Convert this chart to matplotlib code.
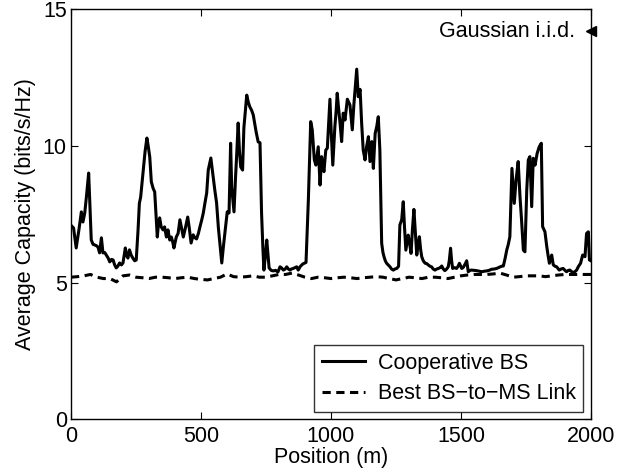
import matplotlib
matplotlib.use("Agg")
import matplotlib.pyplot as plt

plt.rcParams['font.family'] = ['Liberation Sans', 'DejaVu Sans']

# Cooperative BS capacity along the route (position in m, capacity in bits/s/Hz)
coop_pos = [
    0, 10, 20, 30, 40, 46, 53, 60, 68, 73, 78, 85, 91, 98, 104, 110, 117, 123, 130, 136,
    143, 149, 156, 162, 168, 174, 180, 187, 194, 200, 209, 214, 219, 225, 232, 238, 245, 251, 258, 263,
    268, 277, 285, 292, 297, 303, 309, 316, 322, 327, 332, 336, 341, 347, 354, 360, 367, 373, 380, 386,
    391, 396, 405, 412, 419, 425, 432, 440, 449, 455, 462, 470, 476, 483, 490, 496, 503, 509, 515, 522,
    528, 538, 547, 553, 560, 567, 574, 580, 586, 592, 601, 608, 614, 618, 627, 633, 638, 643, 648, 653,
    660, 665, 670, 676, 682, 688, 695, 701, 707, 712, 720, 727, 733, 738, 742, 748, 753, 758, 762, 770,
    778, 787, 796, 804, 810, 817, 824, 830, 836, 842, 848, 855, 862, 868, 874, 881, 891, 904, 913, 922,
    928, 936, 942, 951, 958, 964, 968, 973, 980, 986, 991, 996, 1001, 1007, 1011, 1015, 1020, 1024, 1029, 1035,
    1041, 1047, 1054, 1058, 1063, 1068, 1073, 1078, 1082, 1088, 1094, 1099, 1105, 1112, 1118, 1124, 1131, 1137, 1144, 1150,
    1157, 1163, 1170, 1176, 1182, 1188, 1192, 1195, 1200, 1204, 1209, 1214, 1220, 1227, 1233, 1240, 1246, 1253, 1260, 1265,
    1272, 1278, 1283, 1288, 1297, 1303, 1308, 1313, 1319, 1325, 1330, 1335, 1340, 1345, 1349, 1355, 1362, 1368, 1374, 1381,
    1387, 1393, 1400, 1407, 1413, 1420, 1426, 1432, 1438, 1445, 1451, 1455, 1460, 1464, 1468, 1475, 1483, 1489, 1494, 1499,
    1503, 1508, 1512, 1517, 1522, 1528, 1535, 1541, 1550, 1560, 1570, 1580, 1590, 1599, 1608, 1618, 1628, 1637, 1644, 1650,
    1656, 1663, 1670, 1676, 1682, 1688, 1692, 1696, 1705, 1712, 1720, 1727, 1733, 1740, 1746, 1753, 1759, 1765, 1772, 1778,
    1785, 1793, 1801, 1809, 1814, 1823, 1830, 1835, 1840, 1849, 1855, 1862, 1868, 1878, 1885, 1893, 1900, 1906, 1913, 1919,
    1926, 1932, 1938, 1945, 1951, 1960, 1968, 1977, 1983, 1990, 1994, 2000,
]
coop_cap = [
    7.1, 7.0, 6.27, 6.9, 7.59, 7.22, 7.55, 8.2, 9.01, 7.8, 6.56, 6.4, 6.38, 6.35, 6.3, 6.09, 6.64, 6.09, 6.1, 6.01,
    5.9, 5.76, 5.85, 5.83, 5.65, 5.54, 5.6, 5.72, 5.65, 5.72, 6.27, 6.0, 5.9, 6.2, 6.0, 5.9, 5.8, 5.83, 6.93, 7.9,
    8.13, 9.01, 9.8, 10.29, 10.0, 9.6, 8.69, 8.45, 8.32, 7.5, 6.67, 7.1, 7.37, 7.04, 6.93, 7.04, 6.67, 6.93, 6.56, 6.67,
    6.5, 6.27, 6.67, 6.8, 7.3, 7.0, 6.67, 7.0, 7.4, 7.0, 6.45, 6.75, 6.65, 6.6, 6.8, 7.04, 7.3, 7.55, 7.9, 8.28,
    9.12, 9.56, 8.87, 8.4, 7.92, 7.0, 6.3, 5.72, 6.3, 6.82, 7.59, 7.55, 10.1, 8.5, 7.59, 8.87, 9.8, 10.84, 9.8, 9.23,
    9.12, 10.66, 11.2, 11.86, 11.6, 11.43, 11.3, 11.14, 10.8, 10.52, 10.15, 10.12, 7.55, 6.3, 5.46, 6.0, 6.56, 6.0, 5.54, 5.45,
    5.43, 5.45, 5.39, 5.58, 5.54, 5.46, 5.5, 5.58, 5.5, 5.46, 5.5, 5.52, 5.55, 5.58, 5.46, 5.58, 5.68, 5.74, 8.02, 10.89,
    10.59, 9.49, 9.3, 9.97, 8.57, 9.61, 9.3, 9.06, 9.85, 9.92, 10.8, 11.71, 10.5, 9.3, 10.0, 10.71, 11.3, 11.93, 11.4, 10.83,
    10.16, 11.2, 10.95, 11.3, 11.71, 11.6, 11.5, 11.0, 10.59, 11.5, 12.2, 12.81, 11.8, 12.07, 10.83, 9.85, 9.49, 9.97, 10.34, 9.43,
    10.16, 9.18, 10.46, 10.71, 11.07, 9.85, 8.0, 6.44, 6.1, 5.95, 5.8, 5.71, 5.65, 5.58, 5.5, 5.46, 5.5, 5.52, 5.6, 7.11,
    7.3, 7.96, 7.0, 6.19, 6.74, 6.4, 6.07, 6.9, 7.68, 6.8, 6.01, 6.4, 6.68, 6.2, 5.95, 5.8, 5.71, 5.7, 5.65, 5.6,
    5.58, 5.5, 5.46, 5.5, 5.52, 5.55, 5.61, 5.5, 5.44, 5.5, 5.58, 5.8, 6.26, 5.8, 5.52, 5.55, 5.52, 5.6, 5.71, 5.6,
    5.52, 5.55, 5.61, 5.7, 5.8, 5.4, 5.45, 5.46, 5.45, 5.44, 5.42, 5.4, 5.42, 5.43, 5.45, 5.49, 5.5, 5.52, 5.55, 5.58,
    5.6, 5.61, 5.9, 6.19, 6.4, 6.68, 7.9, 9.18, 7.9, 8.76, 9.43, 8.15, 7.29, 6.19, 6.13, 8.39, 9.49, 9.61, 7.78, 9.55,
    9.3, 9.73, 9.97, 10.1, 7.05, 6.86, 6.32, 6.0, 5.71, 6.01, 5.65, 5.6, 5.58, 5.46, 5.5, 5.52, 5.45, 5.4, 5.45, 5.46,
    5.4, 5.37, 5.4, 5.46, 5.58, 5.71, 6.01, 5.95, 6.8, 6.86, 5.83, 5.8,
]

# Best single BS-to-MS link
best_pos = [
    0, 25, 50, 75, 100, 125, 150, 175, 200, 225, 250, 275, 300, 325, 350, 375, 400, 425, 450, 475,
    500, 525, 550, 575, 600, 625, 650, 675, 700, 725, 750, 775, 800, 825, 850, 875, 900, 925, 950, 975,
    1000, 1025, 1050, 1075, 1100, 1125, 1150, 1175, 1200, 1225, 1250, 1275, 1300, 1325, 1350, 1375, 1400, 1425, 1450, 1475,
    1500, 1525, 1550, 1575, 1600, 1625, 1650, 1675, 1700, 1725, 1750, 1775, 1800, 1825, 1850, 1875, 1900, 1925, 1950, 1975,
    2000,
]
best_cap = [
    5.2, 5.22, 5.25, 5.3, 5.2, 5.15, 5.15, 5.03, 5.25, 5.28, 5.2, 5.18, 5.15, 5.2, 5.2, 5.18, 5.15, 5.18, 5.2, 5.15,
    5.12, 5.1, 5.15, 5.2, 5.32, 5.22, 5.2, 5.22, 5.25, 5.2, 5.2, 5.25, 5.3, 5.3, 5.35, 5.28, 5.2, 5.15, 5.2, 5.18,
    5.15, 5.18, 5.2, 5.18, 5.15, 5.18, 5.2, 5.22, 5.2, 5.15, 5.1, 5.15, 5.2, 5.18, 5.15, 5.2, 5.2, 5.18, 5.15, 5.2,
    5.25, 5.28, 5.3, 5.3, 5.3, 5.32, 5.35, 5.28, 5.2, 5.22, 5.25, 5.25, 5.25, 5.22, 5.25, 5.28, 5.3, 5.3, 5.3, 5.3,
    5.3,
]

gauss_iid = 14.2

fs = 15.5

fig = plt.figure(figsize=(6.36, 4.76), dpi=100)
ax = fig.add_axes([0.1116, 0.119, 0.8176, 0.8615])

ax.plot(coop_pos, coop_cap, color='black', linewidth=2.2, label='Cooperative BS')
ax.plot(best_pos, best_cap, color='black', linewidth=2.2, linestyle='--', dashes=(2.7, 1.8),
        label='Best BS\u2212to\u2212MS Link')

# Gaussian i.i.d. reference marker on the right edge
ax.plot([2000], [gauss_iid], marker='<', color='black', markersize=7, clip_on=False)
ax.text(1938, gauss_iid, 'Gaussian i.i.d.', ha='right', va='center', fontsize=fs)

ax.set_xlim(0, 2000)
ax.set_ylim(0, 15)
ax.set_xticks([0, 500, 1000, 1500, 2000])
ax.set_yticks([0, 5, 10, 15])
ax.tick_params(direction='in', top=True, right=True, labelsize=fs, length=5)
ax.tick_params(axis='x', pad=5)
ax.tick_params(axis='y', pad=3)
ax.set_xlabel('Position (m)', fontsize=fs, labelpad=0)
ax.set_ylabel('Average Capacity (bits/s/Hz)', fontsize=fs, labelpad=5)
for sp in ax.spines.values():
    sp.set_linewidth(1.0)

leg = ax.legend(loc='lower right', fontsize=fs, frameon=True, fancybox=False,
                edgecolor='black', handlelength=2.0, handletextpad=0.6,
                borderaxespad=0.35, borderpad=0.35, labelspacing=0.45)
leg.get_frame().set_linewidth(1.0)

fig.savefig('out.png', dpi=100)
